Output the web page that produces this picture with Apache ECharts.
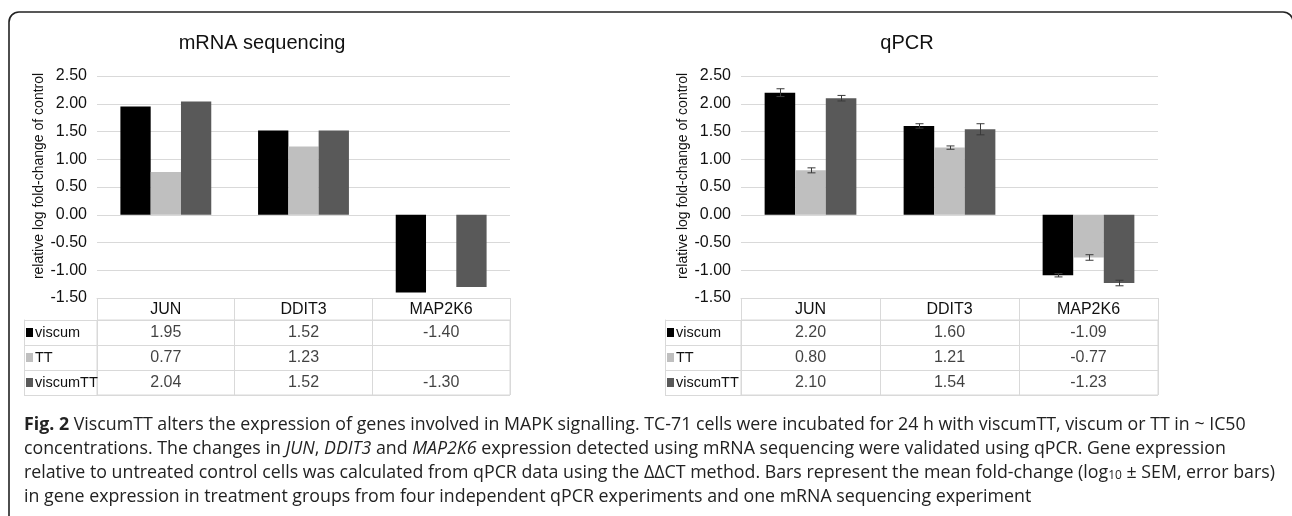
<!DOCTYPE html>
<html>
<head>
<meta charset="utf-8">
<script src="https://cdn.jsdelivr.net/npm/echarts@6/dist/echarts.min.js"></script>
<style>
html,body{margin:0;padding:0;background:#fff;}
#c{width:1292px;height:516px;}
</style>
</head>
<body>
<div id="c"></div>
<script>
// ---- data ----
const genes = ['JUN', 'DDIT3', 'MAP2K6'];
const groups = ['viscum', 'TT', 'viscumTT'];
const seqViscum = [1.95, 1.52, -1.40];
const seqTT = [0.77, 1.23, null];
const seqViscumTT = [2.04, 1.52, -1.30];
const qpcrViscum = [2.20, 1.60, -1.09];
const qpcrTT = [0.80, 1.21, -0.77];
const qpcrViscumTT = [2.10, 1.54, -1.23];
const semViscum = [0.07, 0.04, 0.03];
const semTT = [0.045, 0.03, 0.05];
const semViscumTT = [0.05, 0.10, 0.05];
const yMin = -1.5, yMax = 2.5, yStep = 0.5;
const colors = ['#000000', '#bfbfbf', '#595959'];
const yName = 'relative log fold-change of control';

const chart = echarts.init(document.getElementById('c'), null, {renderer: 'canvas'});
const FONT = '"Liberation Sans", Arial, sans-serif';
const GRID_C = '#d9d9d9';
const BAR_FRAC = 0.22;

function plotGrid(left, right) { return {left: left, right: right, top: 76, bottom: 218, show: false}; }
function tableGrid(left, right) { return {left: left, right: right, top: 320, bottom: 121, show: true, borderColor: GRID_C, borderWidth: 1}; }

function headerAxis(gi) {
  return {
    type: 'category', gridIndex: gi, data: genes, position: 'bottom',
    axisLine: {show: true, onZero: false, lineStyle: {color: GRID_C}},
    axisTick: {show: true, length: 22, inside: false, alignWithLabel: false, lineStyle: {color: GRID_C}},
    axisLabel: {color: '#111', fontFamily: FONT, fontSize: 16, margin: 4},
    splitLine: {show: false}
  };
}
function tableXAxis(gi) {
  return {
    type: 'category', gridIndex: gi, data: genes,
    axisLine: {show: false}, axisTick: {show: false}, axisLabel: {show: false},
    splitLine: {show: true, lineStyle: {color: GRID_C}}
  };
}
function valueAxis(gi) {
  return {
    type: 'value', gridIndex: gi, min: yMin, max: yMax, interval: yStep,
    name: yName, nameLocation: 'middle', nameGap: 40, nameRotate: 90,
    nameTextStyle: {color: '#111', fontFamily: FONT, fontSize: 14, padding: [0, 0, 0, 22]},
    axisLine: {show: false}, axisTick: {show: false},
    axisLabel: {color: '#111', fontFamily: FONT, fontSize: 16, margin: 10, formatter: v => v.toFixed(2)},
    splitLine: {show: true, lineStyle: {color: GRID_C}}
  };
}
function rowAxis(gi, colW) {
  return {
    type: 'category', gridIndex: gi, data: groups, inverse: true,
    axisLine: {show: false},
    axisTick: {show: true, length: colW, inside: false, alignWithLabel: false, lineStyle: {color: GRID_C}},
    axisLabel: {
      align: 'left', margin: colW - 2, fontFamily: FONT, fontSize: 14.5, color: '#111',
      formatter: (v, i) => '{s' + i + '|}{t|' + v + '}',
      rich: {
        s0: {backgroundColor: colors[0], width: 7, height: 9},
        s1: {backgroundColor: colors[1], width: 7, height: 9},
        s2: {backgroundColor: colors[2], width: 7, height: 9},
        t: {fontFamily: FONT, fontSize: 14.5, color: '#111', padding: [0, 0, 0, 2]}
      }
    },
    splitLine: {show: true, lineStyle: {color: GRID_C}}
  };
}
function edgeAxis(gi, colW) {
  return {
    type: 'category', gridIndex: gi, data: groups, inverse: true, position: 'left', offset: colW,
    axisLine: {show: true, lineStyle: {color: GRID_C}}, axisTick: {show: false}, axisLabel: {show: false},
    splitLine: {show: false}
  };
}
function barSeries(name, data, xi, yi, ci) {
  return {
    type: 'bar', name: name, xAxisIndex: xi, yAxisIndex: yi, data: data,
    barWidth: (BAR_FRAC * 100) + '%', barGap: '0%',
    itemStyle: {color: colors[ci]}, silent: true
  };
}
function tableSeries(xi, yi, cols) {
  const d = [];
  cols.forEach((arr, r) => arr.forEach((v, c) => { if (v !== null) d.push([c, r, v]); }));
  return {
    type: 'scatter', xAxisIndex: xi, yAxisIndex: yi, data: d, symbolSize: 0, silent: true,
    label: {show: true, position: 'inside', fontFamily: FONT, fontSize: 16, color: '#111',
      formatter: p => p.value[2].toFixed(2)}
  };
}
const errData = [];
[[qpcrViscum, semViscum], [qpcrTT, semTT], [qpcrViscumTT, semViscumTT]].forEach((pair, s) => {
  pair[0].forEach((v, c) => errData.push([c, v, pair[1][c], s]));
});
const errSeries = {
  type: 'custom', xAxisIndex: 2, yAxisIndex: 3, data: errData, silent: true, z: 5,
  encode: {x: 0, y: 1},
  renderItem: function (params, api) {
    const c = api.value(0), v = api.value(1), e = api.value(2), s = api.value(3);
    const center = api.coord([c, v]);
    const bw = api.size([1, 0])[0] * BAR_FRAC;
    const x = Math.round(center[0] + (s - 1) * bw) + 0.5;
    const yt = api.coord([c, v + e])[1], yb = api.coord([c, v - e])[1];
    const hw = 4;
    const st = {stroke: '#3a3a3a', lineWidth: 1};
    return {type: 'group', children: [
      {type: 'line', shape: {x1: x, y1: yt, x2: x, y2: yb}, style: st},
      {type: 'line', shape: {x1: x - hw, y1: yt, x2: x + hw, y2: yt}, style: st},
      {type: 'line', shape: {x1: x - hw, y1: yb, x2: x + hw, y2: yb}, style: st}
    ]};
  }
};

const CAP = '"Open Sans", "DejaVu Sans", sans-serif';
const CAP_SIZE = 17.8;
const capText =
  '{b|Fig. 2} ViscumTT alters the expression of genes involved in MAPK signalling. TC-71 cells were incubated for 24 h with viscumTT, viscum or TT in ~ IC50\n' +
  'concentrations. The changes in {i|JUN}, {i|DDIT3} and {i|MAP2K6} expression detected using mRNA sequencing were validated using qPCR. Gene expression\n' +
  'relative to untreated control cells was calculated from qPCR data using the \u0394\u0394CT method. Bars represent the mean fold-change (log{sub|10} \u00b1 SEM, error bars)\n' +
  'in gene expression in treatment groups from four independent qPCR experiments and one mRNA sequencing experiment';

chart.setOption({
  animation: false,
  grid: [plotGrid(97, 782), tableGrid(97, 782), plotGrid(741, 134), tableGrid(741, 134)],
  xAxis: [headerAxis(0), tableXAxis(1), headerAxis(2), tableXAxis(3)],
  yAxis: [valueAxis(0), rowAxis(1, 73), edgeAxis(1, 73), valueAxis(2), rowAxis(3, 76), edgeAxis(3, 76)],
  series: [
    barSeries('viscum', seqViscum, 0, 0, 0),
    barSeries('TT', seqTT, 0, 0, 1),
    barSeries('viscumTT', seqViscumTT, 0, 0, 2),
    tableSeries(1, 1, [seqViscum, seqTT, seqViscumTT]),
    barSeries('viscum', qpcrViscum, 2, 3, 0),
    barSeries('TT', qpcrTT, 2, 3, 1),
    barSeries('viscumTT', qpcrViscumTT, 2, 3, 2),
    errSeries,
    tableSeries(3, 4, [qpcrViscum, qpcrTT, qpcrViscumTT])
  ],
  graphic: [
    {type: 'rect', shape: {x: 9, y: 12, width: 1284, height: 620, r: 10}, style: {fill: 'none', stroke: '#222', lineWidth: 1.6}, silent: true},
    {type: 'text', x: 262, y: 43, style: {text: 'mRNA sequencing', font: '20px ' + FONT, fill: '#111', textAlign: 'center', textVerticalAlign: 'middle'}},
    {type: 'text', x: 907, y: 43, style: {text: 'qPCR', font: '20px ' + FONT, fill: '#111', textAlign: 'center', textVerticalAlign: 'middle'}},
    {type: 'text', x: 24, y: 413, style: {
      text: capText, fontFamily: CAP, fontSize: CAP_SIZE, lineHeight: 24, fill: '#222',
      rich: {
        b: {fontFamily: CAP, fontSize: CAP_SIZE, fontWeight: 'bold', fill: '#222', lineHeight: 24},
        i: {fontFamily: CAP, fontSize: CAP_SIZE, fontStyle: 'italic', fill: '#222', lineHeight: 24},
        sub: {fontFamily: CAP, fontSize: 12, fill: '#222', verticalAlign: 'bottom', lineHeight: 24, padding: [0, 0, 3, 0]}
      }
    }}
  ]
});
</script>
</body>
</html>
